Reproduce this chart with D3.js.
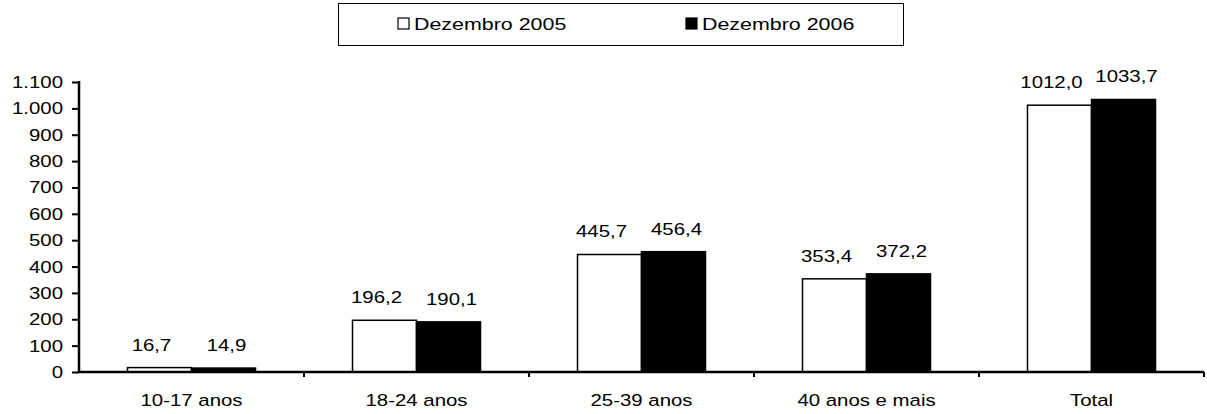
<!DOCTYPE html>
<html>
<head>
<meta charset="utf-8">
<script src="https://cdn.jsdelivr.net/npm/d3@7"></script>
<style>
  html, body { margin: 0; padding: 0; background: #fff; }
  svg { display: block; }
  text { font-family: Arial, "Liberation Sans", sans-serif; fill: #000; }
</style>
</head>
<body>
<svg id="chart" width="1207" height="414"></svg>
<script>
const categories = ["10-17 anos", "18-24 anos", "25-39 anos", "40 anos e mais", "Total"];
const seriesNames = ["Dezembro 2005", "Dezembro 2006"];
const values2005 = [16.7, 196.2, 445.7, 353.4, 1012.0];
const values2006 = [14.9, 190.1, 456.4, 372.2, 1033.7];
const yTicks = [0, 100, 200, 300, 400, 500, 600, 700, 800, 900, 1000, 1100];

(function () {
const series = [values2005, values2006];
const fills = ["#ffffff", "#000000"];
const labelNudge = [-8, 3];

const svg = d3.select("#chart");
const mLeft = 79, mRight = 1204, mTop = 82, mBottom = 372;
const fontSize = 17, stretch = 1.2;

const x = d3.scaleBand().domain(categories).range([mLeft, mRight]).paddingInner(0).paddingOuter(0);
const barW = 64;
const xs = d3.scaleBand().domain([0, 1]).range([0, barW * 2]);
const y = d3.scaleLinear().domain([0, 1100]).range([mBottom, mTop]);

const fmtTick = v => d3.format(",")(v).replace(/,/g, ".");
const fmtVal = v => v.toFixed(1).replace(".", ",");

function stretchedText(g, tx, ty, str, anchor, sx) {
  return g.append("text")
    .attr("transform", `translate(${tx},${ty}) scale(${sx || stretch},1)`)
    .attr("text-anchor", anchor || "middle")
    .attr("font-size", fontSize)
    .text(str);
}

// Bars
series.forEach((vals, si) => {
  const g = svg.append("g");
  g.selectAll("rect").data(vals).join("rect")
    .attr("x", (d, i) => x(categories[i]) + x.bandwidth() / 2 - barW + xs(si))
    .attr("y", d => y(d))
    .attr("width", barW)
    .attr("height", d => y(0) - y(d))
    .attr("fill", fills[si])
    .attr("stroke", "#000")
    .attr("stroke-width", 1.5);
  vals.forEach((d, i) => {
    const cx = x(categories[i]) + x.bandwidth() / 2 - barW + xs(si) + barW / 2 + labelNudge[si];
    stretchedText(g, cx, y(d) - 17, fmtVal(d), "middle");
  });
});

// Y axis
const yAxis = d3.axisLeft(y).tickValues(yTicks).tickSize(7).tickFormat("");
const ya = svg.append("g").attr("transform", `translate(${mLeft},0)`).call(yAxis);
ya.select(".domain").attr("stroke", "#000").attr("stroke-width", 2.5).attr("d", `M0,${mTop - 1}V${mBottom}`);
ya.selectAll(".tick line").attr("stroke", "#000").attr("stroke-width", 2);
yTicks.forEach(t => {
  stretchedText(svg, 63, y(t) + 6, fmtTick(t), "end");
});

// X axis
const xa = svg.append("g").attr("transform", `translate(0,${mBottom})`);
xa.append("line").attr("x1", mLeft).attr("x2", mRight).attr("y1", 0).attr("y2", 0)
  .attr("stroke", "#000").attr("stroke-width", 2.5);
const bounds = categories.map(c => x(c) + x.bandwidth());
xa.selectAll("line.tk").data(bounds).join("line").attr("class", "tk")
  .attr("x1", d => d).attr("x2", d => d).attr("y1", 0).attr("y2", 5)
  .attr("stroke", "#000").attr("stroke-width", 2);
categories.forEach(c => {
  stretchedText(xa, x(c) + x.bandwidth() / 2, 34, c, "middle");
});

// Legend
const lg = svg.append("g");
lg.append("rect").attr("x", 338.5).attr("y", 3.5).attr("width", 565).attr("height", 42)
  .attr("fill", "#fff").attr("stroke", "#000").attr("stroke-width", 1);
const legX = [398, 686];
seriesNames.forEach((n, i) => {
  lg.append("rect").attr("x", legX[i]).attr("y", 18).attr("width", 11).attr("height", 11)
    .attr("fill", fills[i]).attr("stroke", "#000").attr("stroke-width", 1.2);
  stretchedText(lg, legX[i] + 16, 30, n, "start", 1.26);
});
})();
</script>
</body>
</html>
